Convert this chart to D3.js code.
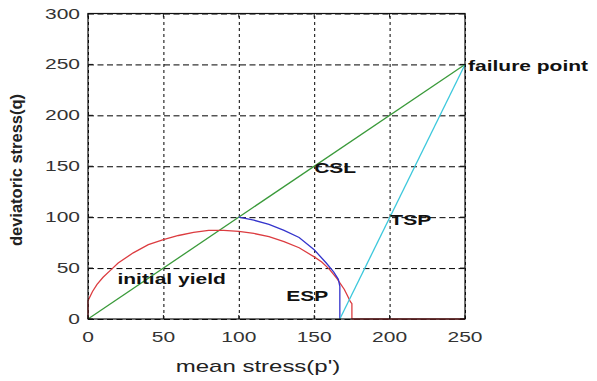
<!DOCTYPE html>
<html>
<head>
<meta charset="utf-8">
<script src="https://cdn.jsdelivr.net/npm/d3@7"></script>
<style>
  body { margin: 0; background: #fff; }
  text { font-family: "Liberation Sans", Arial, sans-serif; }
</style>
</head>
<body>
<div id="chart-area"></div>
<script>
// Values (p' = mean stress, q = deviatoric stress)
let xTicks = [0, 50, 100, 150, 200, 250];
let yTicks = [0, 50, 100, 150, 200, 250, 300];

// critical state line
let cslP = [0, 250];
let cslQ = [0, 250];

// initial yield surface (red)
let yieldP = [0, 0, 3, 6, 10, 15, 20, 30, 40, 50, 60, 70, 80, 90, 100, 110, 120, 130, 140, 150, 155, 160, 165, 170, 172, 174, 175, 175, 250];
let yieldQ = [0, 18, 27, 34, 41, 48, 55, 65, 73, 78, 82, 85, 87, 87, 86, 84, 81, 76, 70, 61, 56, 49, 40, 29, 23, 17, 15, 0, 0];

// effective stress path (blue)
let espP = [100, 110, 120, 130, 140, 150, 158, 163, 166, 167, 167];
let espQ = [100, 97, 93, 87, 80, 68, 55, 46, 39, 32, 0];

// total stress path (cyan)
let tspP = [167, 250];
let tspQ = [0, 250];

// labels
let notes = [
    { text: 'failure point', p: 252, q: 244 },
    { text: 'CSL', p: 150, q: 143 },
    { text: 'TSP', p: 200.5, q: 92 },
    { text: 'initial yield', p: 19.5, q: 34 },
    { text: 'ESP', p: 131.5, q: 17.5 }
];

let svgWidth = 597;
let svgHeight = 381;
let margin = { left: 88, right: 132, top: 13.5, bottom: 62 };
let width = svgWidth - margin.left - margin.right;
let height = svgHeight - margin.top - margin.bottom;

// the picture is stretched sideways, so is the text
let stretch = 1.5;

let svg = d3.select('#chart-area')
    .append('svg')
        .attr('width', svgWidth)
        .attr('height', svgHeight);

let g = svg.append('g')
    .attr('transform', 'translate(' + margin.left + ',' + margin.top + ')');

// Scales
let x = d3.scaleLinear().domain([0, 250]).range([0, width]);
let y = d3.scaleLinear().domain([0, 300]).range([height, 0]);

// Grid
g.append('g')
    .attr('class', 'grid')
    .attr('transform', 'translate(0,' + height + ')')
    .call(d3.axisBottom(x).tickValues(xTicks).tickSize(-height).tickFormat(''))
    .call(function(s) {
        s.select('.domain').remove();
        s.selectAll('line').attr('stroke', '#000').attr('stroke-dasharray', '3,3');
    });
g.append('g')
    .attr('class', 'grid')
    .call(d3.axisLeft(y).tickValues(yTicks).tickSize(-width).tickFormat(''))
    .call(function(s) {
        s.select('.domain').remove();
        s.selectAll('line').attr('stroke', '#000').attr('stroke-dasharray', '6,3.5');
    });

// Lines
let line = d3.line()
    .x(function(d) { return x(d[0]); })
    .y(function(d) { return y(d[1]); });

function pairs(ps, qs) {
    return ps.map(function(p, i) { return [p, qs[i]]; });
}

let series = [
    { p: cslP, q: cslQ, color: '#3a9a3a' },
    { p: yieldP, q: yieldQ, color: '#dc3c40' },
    { p: espP, q: espQ, color: '#3434cc' },
    { p: tspP, q: tspQ, color: '#3cc8dc' }
];

series.forEach(function(s) {
    g.append('path')
        .datum(pairs(s.p, s.q))
        .attr('fill', 'none')
        .attr('stroke', s.color)
        .attr('stroke-width', 1.3)
        .attr('d', line);
});

// Frame with inside ticks
g.append('rect')
    .attr('width', width)
    .attr('height', height)
    .attr('fill', 'none')
    .attr('stroke', '#111')
    .attr('stroke-width', 1.2);

xTicks.forEach(function(t) {
    g.append('line').attr('x1', x(t)).attr('x2', x(t)).attr('y1', height).attr('y2', height - 4).attr('stroke', '#111');
    g.append('line').attr('x1', x(t)).attr('x2', x(t)).attr('y1', 0).attr('y2', 4).attr('stroke', '#111');
    g.append('text')
        .attr('transform', 'translate(' + x(t) + ',' + (height + 23) + ') scale(' + stretch + ',1)')
        .attr('text-anchor', 'middle')
        .attr('font-size', '14px')
        .attr('fill', '#333')
        .text(t);
});

yTicks.forEach(function(t) {
    g.append('line').attr('x1', 0).attr('x2', 5).attr('y1', y(t)).attr('y2', y(t)).attr('stroke', '#111');
    g.append('line').attr('x1', width).attr('x2', width - 5).attr('y1', y(t)).attr('y2', y(t)).attr('stroke', '#111');
    g.append('text')
        .attr('transform', 'translate(-8,' + (y(t) + 5) + ') scale(' + stretch + ',1)')
        .attr('text-anchor', 'end')
        .attr('font-size', '14px')
        .attr('fill', '#333')
        .text(t);
});

// Axis labels
svg.append('text')
    .attr('transform', 'translate(258,372) scale(' + stretch + ',1)')
    .attr('text-anchor', 'middle')
    .attr('font-size', '16px')
    .attr('fill', '#222')
    .text("mean stress(p')");

svg.append('text')
    .attr('transform', 'translate(21.5,170) rotate(-90)')
    .attr('text-anchor', 'middle')
    .attr('font-size', '16.5px')
    .attr('font-weight', 'bold')
    .attr('fill', '#222')
    .text('deviatoric stress(q)');

// Annotations
notes.forEach(function(n) {
    g.append('text')
        .attr('transform', 'translate(' + x(n.p) + ',' + y(n.q) + ') scale(' + stretch + ',1)')
        .attr('font-size', '14px')
        .attr('font-weight', 'bold')
        .attr('fill', '#111')
        .text(n.text);
});
</script>
</body>
</html>
